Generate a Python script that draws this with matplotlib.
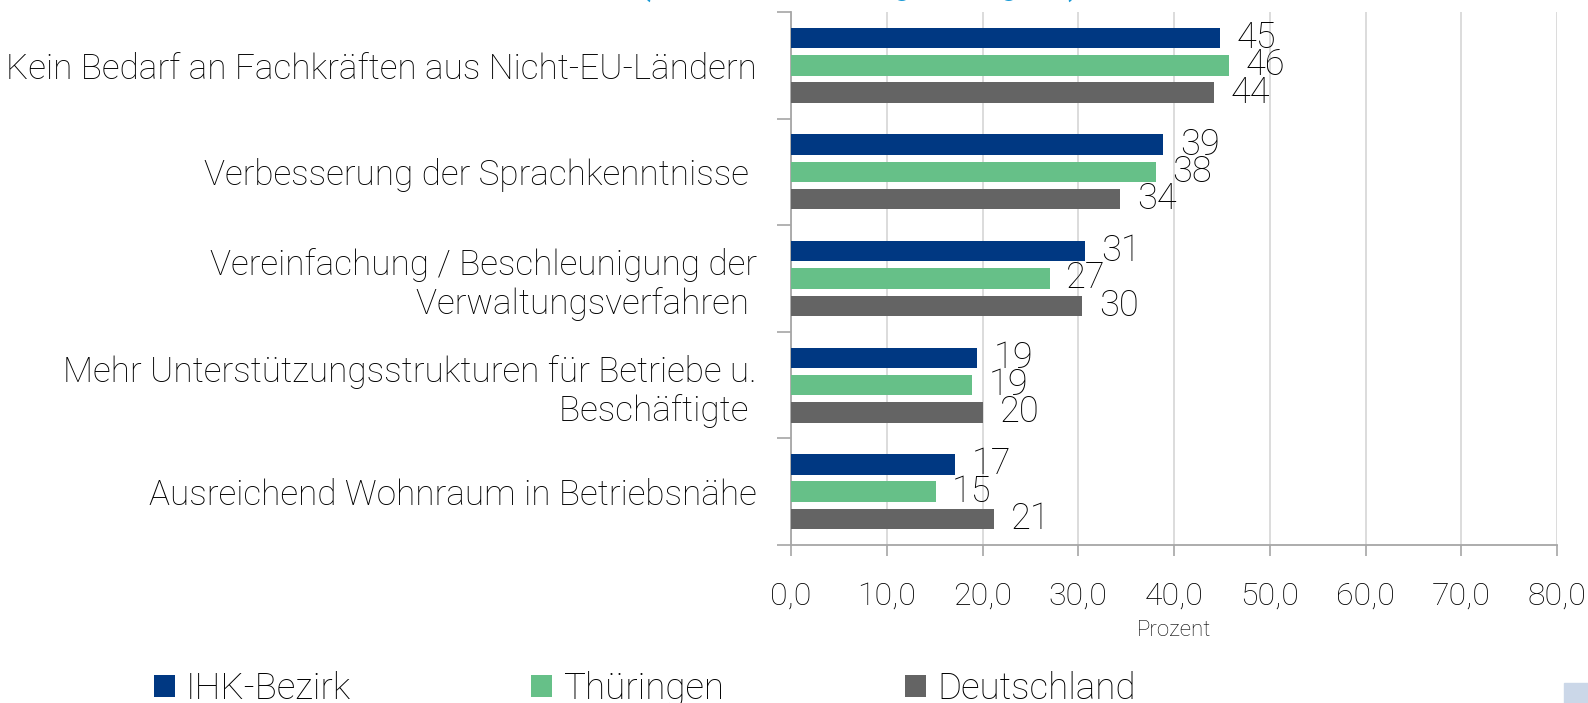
import matplotlib
matplotlib.use('Agg')
import matplotlib.pyplot as plt
from matplotlib.patches import Rectangle
import numpy as np

plt.rcParams['font.family'] = ['Roboto', 'DejaVu Sans']
plt.rcParams['font.weight'] = 'light'
plt.rcParams['axes.labelweight'] = 'light'

categories = ['Kein Bedarf an Fachkräften aus Nicht-EU-Ländern',
              'Verbesserung der Sprachkenntnisse ',
              'Vereinfachung / Beschleunigung der\nVerwaltungsverfahren ',
              'Mehr Unterstützungsstrukturen für Betriebe u.\nBeschäftigte ',
              'Ausreichend Wohnraum in Betriebsnähe']
series_names = ['IHK-Bezirk', 'Thüringen', 'Deutschland']
ihk = [44.8, 38.9, 30.7, 19.4, 17.1]
thueringen = [45.7, 38.1, 27.0, 18.9, 15.1]
deutschland = [44.2, 34.4, 30.4, 20.1, 21.2]
xticks = [0, 10, 20, 30, 40, 50, 60, 70, 80]

colors = ['#003882', '#66c088', '#646464']
values = [ihk, thueringen, deutschland]
text_color = '#000000'

W, H = 1588, 703
fig = plt.figure(figsize=(W / 100, H / 100), dpi=100)
ax = fig.add_axes([791/W, 1 - 545/H, (1557-791)/W, (545-12)/H])

y = np.arange(len(categories))
offsets = [-0.256, 0.0, 0.256]
bars = []
for vals, off, col, name in zip(values, offsets, colors, series_names):
    b = ax.barh(y + off, vals, height=0.192, color=col, label=name, zorder=3)
    bars.append(b)
    for yi, v in zip(y + off, vals):
        ax.annotate('%.0f' % v, (v, yi), xytext=(12, 0), textcoords='offset points',
                    va='center', ha='left', fontsize=26, color=text_color, zorder=4)

ax.set_xlim(0, 80)
ax.set_ylim(len(categories) - 0.5, -0.5)
ax.set_xticks(xticks)
ax.set_xticklabels([('%.1f' % t).replace('.', ',') for t in xticks])
ax.tick_params(axis='x', length=8, width=1.2, color='#a6a6a6', pad=18, labelsize=23, labelcolor=text_color)
ax.set_yticks(y)
ax.set_yticklabels(categories, fontsize=25.3, color=text_color)
ax.tick_params(axis='y', which='major', length=0, pad=24.5)
ax.set_yticks(np.arange(-0.5, len(categories), 1), minor=True)
ax.tick_params(axis='y', which='minor', length=10, width=1.2, color='#a6a6a6')
ax.grid(axis='x', color='#d9d9d9', linewidth=1.3, zorder=0)
for s in ['top', 'right']:
    ax.spines[s].set_visible(False)
for s in ['left', 'bottom']:
    ax.spines[s].set_color('#a6a6a6')
    ax.spines[s].set_linewidth(1.3)
ax.set_xlabel('Prozent', fontsize=16, color=text_color, labelpad=7)

fig.legend(handles=bars, labels=series_names, loc='upper left',
           bbox_to_anchor=(154/W, 1 - 671/H), ncol=3, frameon=False,
           fontsize=26.5, handlelength=0.57, handleheight=0.57, handletextpad=0.3,
           columnspacing=4.9, borderaxespad=0, borderpad=0)

fig.text(860/W, 1 + 5/H, '(Mehrfachnennungen möglich)', ha='center', va='baseline',
         fontsize=23, color='#1a9ad6', fontweight='normal')
fig.patches.append(Rectangle((1564/W, 0), 24/W, 20/H, transform=fig.transFigure,
                             color='#cbd7e8', zorder=0))

fig.savefig('out.png', dpi=100)
